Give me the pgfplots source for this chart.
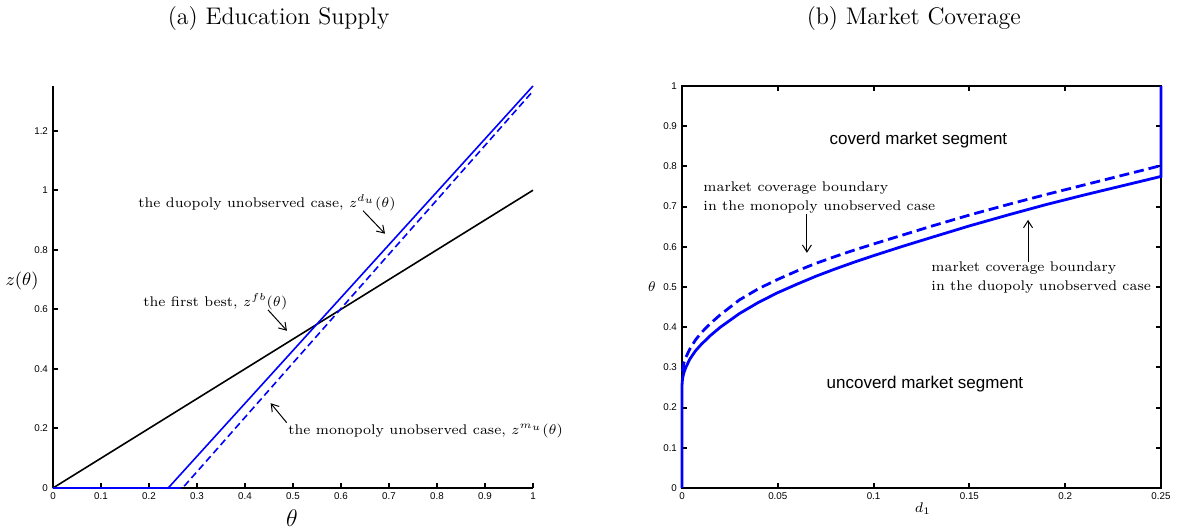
\documentclass[border=0pt]{standalone}
\usepackage{fontspec}
\usepackage{pgfplots}
\pgfplotsset{compat=1.18}
\usetikzlibrary{arrows.meta}
\newfontfamily\tickfont{Liberation Sans}
\begin{document}
\begin{tikzpicture}
\useasboundingbox (0,0) rectangle (589pt,265.5pt);
\tikzset{ann/.style={font=\fontsize{7}{9.5}\selectfont, inner sep=0pt},
         arr/.style={-{Straight Barb[length=3.5pt,width=4.5pt]}, line width=0.5pt}}
% ---------------- (a) ----------------
\begin{axis}[
  at={(26.5pt,21.5pt)}, anchor=south west,
  scale only axis, width=240pt, height=201pt,
  xmin=0, xmax=1, ymin=0, ymax=1.35,
  axis x line*=bottom, axis y line*=left,
  axis line style={line width=1.2pt,-},
  tick align=inside, major tick length=2.5pt,
  tick style={line width=1pt, black},
  xtick={0,0.1,0.2,0.3,0.4,0.5,0.6,0.7,0.8,0.9,1},
  xticklabels={0,0.1,0.2,0.3,0.4,0.5,0.6,0.7,0.8,0.9,1},
  ytick={0,0.2,0.4,0.6,0.8,1,1.2},
  yticklabels={0,0.2,0.4,0.6,0.8,1,1.2},
  ticklabel style={font=\tickfont\fontsize{4.9}{5}\selectfont},
  xticklabel style={yshift=1pt},
  yticklabel style={xshift=1pt},
  xlabel={$\theta$}, ylabel={$z(\theta)$},
  xlabel style={at={(0.498,-0.0746)}, anchor=center, font=\fontsize{12}{14}\selectfont},
  ylabel style={at={(-0.0646,0.515)}, anchor=center, rotate=-90, font=\fontsize{9}{11}\selectfont},
  clip=false,
]
\addplot[black, line width=0.8pt] coordinates {(0,0) (1,1)};
\addplot[blue, line width=0.8pt, dash pattern=on 3.5pt off 2pt] coordinates {(0,0) (0.27,0) (1,1.333)};
\addplot[blue, line width=0.8pt] coordinates {(0,0) (0.24,0) (1,1.35)};
\addplot[blue, line width=1.2pt] coordinates {(0,0) (0.262,0)};
\node[font=\fontsize{12}{14}\selectfont] at (rel axis cs:0.47,1.169) {(a) Education Supply};
\node[ann, anchor=west] at (axis cs:0.177,0.958) {the duopoly unobserved case, $z^{d_u}(\theta)$};
\draw[arr] (axis cs:0.646,0.931) -- (axis cs:0.6917,0.854);
\node[ann, anchor=west] at (axis cs:0.1875,0.625) {the first best, $z^{fb}(\theta)$};
\draw[arr] (axis cs:0.448,0.598) -- (axis cs:0.4875,0.528);
\node[ann, anchor=west] at (axis cs:0.4896,0.1916) {the monopoly unobserved case, $z^{m_u}(\theta)$};
\draw[arr] (axis cs:0.4868,0.2195) -- (axis cs:0.4535,0.2847);
\end{axis}
% ---------------- (b) ----------------
\begin{axis}[
  at={(341pt,21.5pt)}, anchor=south west,
  scale only axis, width=239.5pt, height=201pt,
  xmin=0, xmax=0.25, ymin=0, ymax=1,
  axis line style={line width=1.2pt},
  tick align=inside, major tick length=2.5pt,
  tick style={line width=1pt, black},
  xtick={0,0.05,0.1,0.15,0.2,0.25},
  xticklabels={0,0.05,0.1,0.15,0.2,0.25},
  ytick={0,0.1,0.2,0.3,0.4,0.5,0.6,0.7,0.8,0.9,1},
  yticklabels={0,0.1,0.2,0.3,0.4,0.5,0.6,0.7,0.8,0.9,1},
  ticklabel style={font=\tickfont\fontsize{4.9}{5}\selectfont},
  xticklabel style={yshift=1pt},
  yticklabel style={xshift=1pt},
  xlabel={$d_1$}, ylabel={$\theta$},
  xlabel style={at={(0.503,-0.052)}, anchor=center, font=\fontsize{7}{8}\selectfont},
  ylabel style={at={(-0.0626,0.5)}, anchor=center, rotate=-90, font=\fontsize{7}{8}\selectfont},
  clip=false,
]
\addplot[blue, line width=1.4pt, dash pattern=on 5pt off 2.5pt] coordinates {
(0.0002,0.29) (0.0005,0.300) (0.001,0.311) (0.002,0.325) (0.004,0.345)
(0.007,0.368) (0.01,0.386) (0.015,0.410) (0.02,0.431) (0.03,0.468)
(0.04,0.496) (0.05,0.519) (0.06,0.540) (0.07,0.559) (0.08,0.576)
(0.09,0.592) (0.1,0.607) (0.115,0.629) (0.13,0.651) (0.15,0.679)
(0.17,0.705) (0.19,0.730) (0.21,0.754) (0.23,0.778) (0.25,0.802)};
\addplot[blue, line width=1.4pt] coordinates {
(0,0) (0,0.255) (0.0002,0.268) (0.0005,0.277) (0.001,0.287) (0.002,0.300)
(0.004,0.320) (0.007,0.341) (0.01,0.357) (0.015,0.380) (0.02,0.400)
(0.03,0.434) (0.04,0.462) (0.05,0.486) (0.06,0.507) (0.07,0.527)
(0.08,0.545) (0.09,0.562) (0.1,0.578) (0.115,0.601) (0.13,0.623)
(0.15,0.652) (0.17,0.679) (0.19,0.705) (0.21,0.729) (0.23,0.752)
(0.25,0.775) (0.25,1)};
\node[font=\fontsize{12}{14}\selectfont] at (rel axis cs:0.484,1.169) {(b) Market Coverage};
\node[font=\tickfont\fontsize{8.5}{10}\selectfont] at (axis cs:0.1234,0.866) {coverd market segment};
\node[font=\tickfont\fontsize{8.5}{10}\selectfont] at (axis cs:0.1268,0.259) {uncoverd market segment};
\node[ann, anchor=west, align=left] at (axis cs:0.011,0.7226) {market coverage boundary\\in the monopoly unobserved case};
\draw[arr] (axis cs:0.0652,0.682) -- (axis cs:0.0652,0.585);
\node[ann, anchor=west, align=left] at (axis cs:0.13,0.524) {market coverage boundary\\in the duopoly unobserved case};
\draw[arr] (axis cs:0.1806,0.562) -- (axis cs:0.1806,0.667);
\end{axis}
\end{tikzpicture}
\end{document}
